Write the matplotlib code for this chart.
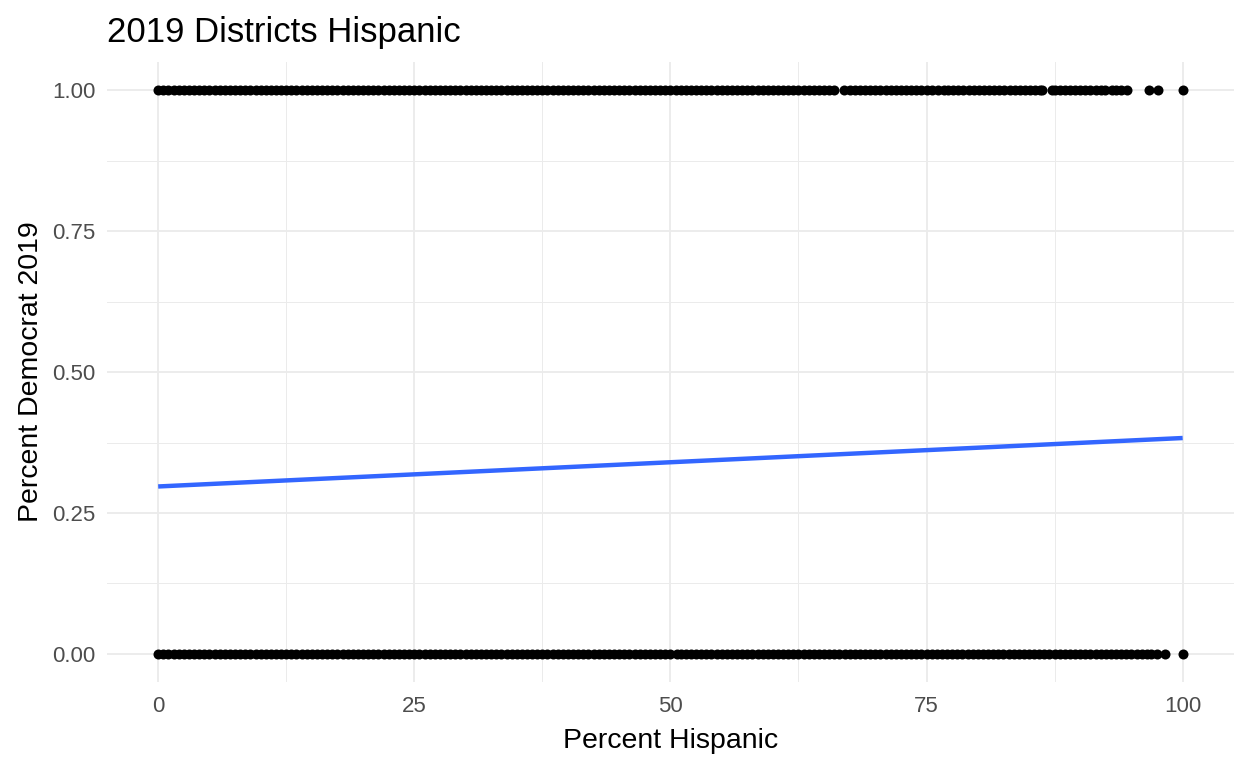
import matplotlib
matplotlib.use("Agg")
import matplotlib.pyplot as plt
from matplotlib.ticker import MultipleLocator

# -------------------------------------------
# Data
# -------------------------------------------
# districts that went Democrat (y = 1), percent hispanic
dem_x = [
    0, 0.5, 1, 1.5, 2, 2.5, 3, 3.5, 4, 4.5,
    5, 5.5, 6, 6.5, 7, 7.5, 8, 8.5, 9, 9.5,
    10, 10.5, 11, 11.5, 12, 12.5, 13, 13.5, 14, 14.5,
    15, 15.5, 16, 16.5, 17, 17.5, 18, 18.5, 19, 19.5,
    20, 20.5, 21, 21.5, 22, 22.5, 23, 23.5, 24, 24.5,
    25, 25.5, 26, 26.5, 27, 27.5, 28, 28.5, 29, 29.5,
    30, 30.5, 31, 31.5, 32, 32.5, 33, 33.5, 34, 34.5,
    35, 35.5, 36, 36.5, 37, 37.5, 38, 38.5, 39, 39.5,
    40, 40.5, 41, 41.5, 42, 42.5, 43, 43.5, 44, 44.5,
    45, 45.5, 46, 46.5, 47, 47.5, 48, 48.5, 49, 49.5,
    50, 50.5, 51, 51.5, 52, 52.5, 53, 53.5, 54, 54.5,
    55, 55.5, 56, 56.5, 57, 57.5, 58, 58.5, 59, 59.5,
    60, 60.5, 61, 61.5, 62, 62.5, 63, 63.5, 64, 64.5,
    65, 65.5, 66.0, 66.9, 67.5, 68, 68.5, 69, 69.5,
    70, 70.5, 71, 71.5, 72, 72.5, 73, 73.5, 74, 74.5,
    75, 75.5, 76.1, 76.7, 77.1, 77.6, 78.1, 78.6, 79.1, 79.6,
    80.1, 80.6, 81.1, 81.6, 82.1, 82.6, 83.1, 83.6, 84.1, 84.6,
    85.1, 85.6, 86.1, 86.3, 87.2, 87.5, 88.0, 88.5, 89.0, 89.5,
    90.0, 90.5, 91.0, 91.5, 92.0, 92.4, 93.1, 93.5, 94.0, 94.6,
    96.7, 97.6, 100,
]

# districts that went Republican (y = 0)
rep_x = [
    0, 0.5, 1, 1.5, 2, 2.5, 3, 3.5, 4, 4.5,
    5, 5.5, 6, 6.5, 7, 7.5, 8, 8.5, 9, 9.5,
    10, 10.5, 11, 11.5, 12, 12.5, 13, 13.5, 14, 14.5,
    15, 15.5, 16, 16.5, 17, 17.5, 18, 18.5, 19, 19.5,
    20, 20.5, 21, 21.5, 22, 22.5, 23, 23.5, 24, 24.5,
    25, 25.5, 26, 26.5, 27, 27.5, 28, 28.5, 29, 29.5,
    30, 30.5, 31, 31.5, 32, 32.5, 33, 33.5, 34, 34.5,
    35, 35.5, 36, 36.5, 37, 37.5, 38, 38.5, 39, 39.5,
    40, 40.5, 41, 41.5, 42, 42.5, 43, 43.5, 44, 44.5,
    45, 45.5, 46, 46.5, 47, 47.5, 48, 48.5, 49, 49.5,
    50, 50.6, 51, 51.5, 52, 52.5, 53, 53.5, 54, 54.5,
    55, 55.5, 56, 56.5, 57, 57.5, 58, 58.5, 59, 59.5,
    60, 60.5, 61, 61.5, 62, 62.5, 63, 63.5, 64, 64.5,
    65, 65.5, 66, 66.5, 67, 67.5, 68, 68.5, 69, 69.5,
    70, 70.5, 71, 71.5, 72, 72.5, 73, 73.5, 74, 74.5,
    75, 75.5, 76, 76.5, 77, 77.5, 78, 78.5, 79, 79.5,
    80, 80.5, 81, 81.5, 82, 82.5, 83, 83.5, 84, 84.5,
    85, 85.5, 86, 86.5, 87, 87.5, 88, 88.5, 89, 89.5,
    90, 90.5, 91, 91.5, 92, 92.5, 93, 93.5, 94, 94.5,
    95, 95.5, 96, 96.5, 96.9, 97.5, 98.3, 100,
]

# linear fit (geom_smooth, method = lm)
fit_x = [0, 100]
fit_y = [0.297, 0.383]

x_ticks = [0, 25, 50, 75, 100]
y_ticks = [0, 0.25, 0.5, 0.75, 1.0]
y_labels = ["0.00", "0.25", "0.50", "0.75", "1.00"]


def main():
    plt.rcParams["font.family"] = ["Liberation Sans", "DejaVu Sans"]

    fig = plt.figure(figsize=(12.48, 7.68), dpi=100)
    ax = fig.add_axes([0.0857, 0.112, 0.903, 0.807])

    ax.scatter(dem_x, [1] * len(dem_x), s=52, c="black", linewidths=0, zorder=3)
    ax.scatter(rep_x, [0] * len(rep_x), s=52, c="black", linewidths=0, zorder=3)
    ax.plot(fit_x, fit_y, color="#3366FF", lw=3.2, zorder=4, solid_capstyle="butt")

    ax.set_xlim(-5, 105)
    ax.set_ylim(-0.05, 1.05)
    ax.set_xticks(x_ticks)
    ax.set_yticks(y_ticks)
    ax.set_yticklabels(y_labels)
    ax.xaxis.set_minor_locator(MultipleLocator(12.5))
    ax.yaxis.set_minor_locator(MultipleLocator(0.125))

    # theme_minimal look
    for sp in ax.spines.values():
        sp.set_visible(False)
    ax.grid(True, which="major", color="#EBEBEB", lw=1.3)
    ax.grid(True, which="minor", color="#EBEBEB", lw=0.7)
    ax.set_axisbelow(True)
    ax.tick_params(which="both", length=0)
    ax.tick_params(axis="y", labelsize=16, labelcolor="#4D4D4D", pad=8)
    ax.tick_params(axis="x", labelsize=16, labelcolor="#4D4D4D", pad=10)

    ax.set_xlabel("Percent Hispanic", fontsize=20.5, labelpad=8)
    ax.set_ylabel("Percent Democrat 2019", fontsize=20.5, labelpad=6)
    fig.text(0.0857, 0.958, "2019 Districts Hispanic", fontsize=25, va="center", ha="left")

    fig.savefig("out.png", dpi=100)


if __name__ == "__main__":
    main()
